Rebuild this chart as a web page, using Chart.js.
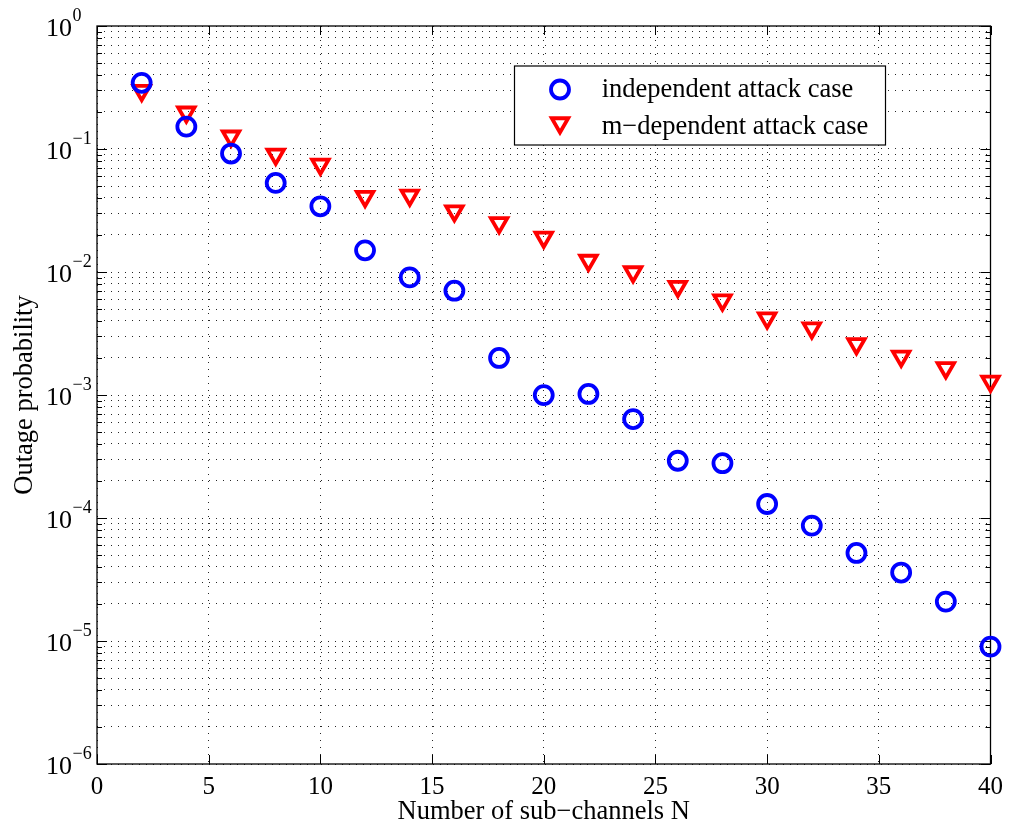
<!DOCTYPE html>
<html>
<head>
<meta charset="utf-8">
<script src="https://cdn.jsdelivr.net/npm/chart.js@4.4.1/dist/chart.umd.min.js"></script>
<style>
  html, body { margin: 0; padding: 0; background: #fff; }
  #wrap { width: 1011px; height: 833px; }
</style>
</head>
<body>
<div id="wrap"><canvas id="outageChart" width="1011" height="833"></canvas></div>
<script>
// --- data ---
const nValues = [2, 4, 6, 8, 10, 12, 14, 16, 18, 20, 22, 24, 26, 28, 30, 32, 34, 36, 38, 40];
const independentValues = [0.345, 0.152, 0.0918, 0.053, 0.0342, 0.0150, 0.00904, 0.00705, 0.00200, 0.000998,
    0.00102, 0.000637, 0.000292, 0.000279, 0.000130, 0.0000867, 0.0000520, 0.0000360, 0.0000209, 0.0000090];
const mDependentValues = [0.298, 0.199, 0.127, 0.0905, 0.075, 0.041, 0.042, 0.0313, 0.0251, 0.0191,
    0.0124, 0.0100, 0.0076, 0.0059, 0.00422, 0.0035, 0.00260, 0.00206, 0.00166, 0.00129];

const seriesLabels = ['independent attack case', 'm\u2212dependent attack case'];
const xTicks = [0, 5, 10, 15, 20, 25, 30, 35, 40];
const yExponents = [0, -1, -2, -3, -4, -5, -6];
const minorSteps = [2, 3, 4, 5, 6, 7, 8, 9];

// decades plus 2..9 minor lines in each decade
let yTickValues = [];
yExponents.forEach(e => {
    yTickValues.push(Math.pow(10, e));
    if (e < 0) minorSteps.forEach(m => yTickValues.push(m * Math.pow(10, e)));
});
yTickValues.sort((a, b) => a - b);

const serif = '"Liberation Serif", "Times New Roman", serif';
Chart.defaults.font.family = serif;
Chart.defaults.color = '#000';

// frame, inward ticks and 10^k labels like matlab
const axesBox = {
    id: 'axesBox',
    beforeDatasetsDraw(chart) {
        const { ctx, chartArea: a, scales: { x, y } } = chart;
        ctx.save();
        ctx.strokeStyle = '#000';
        ctx.lineWidth = 1;
        ctx.beginPath();
        xTicks.forEach(v => {
            const px = Math.round(x.getPixelForValue(v)) + 0.5;
            ctx.moveTo(px, a.bottom); ctx.lineTo(px, a.bottom - 9);
            ctx.moveTo(px, a.top); ctx.lineTo(px, a.top + 9);
        });
        yTickValues.forEach(v => {
            const py = Math.round(y.getPixelForValue(v)) + 0.5;
            const isDecade = Math.abs(Math.log10(v) - Math.round(Math.log10(v))) < 1e-9;
            const len = isDecade ? 10 : 5;
            ctx.moveTo(a.left, py); ctx.lineTo(a.left + len, py);
            ctx.moveTo(a.right, py); ctx.lineTo(a.right - len, py);
        });
        ctx.stroke();
        ctx.lineWidth = 1.3;
        ctx.strokeRect(a.left, a.top, a.right - a.left, a.bottom - a.top);

        // y tick labels with superscript
        yExponents.forEach(e => {
            const py = y.getPixelForValue(Math.pow(10, e));
            ctx.fillStyle = '#000';
            ctx.textBaseline = 'alphabetic';
            ctx.font = '26px ' + serif;
            ctx.textAlign = 'right';
            ctx.fillText('10', 72, py + 10);
            ctx.font = '18px ' + serif;
            ctx.textAlign = 'left';
            ctx.fillText(e === 0 ? '0' : '\u2212' + (-e), 72.5, py - 5);
        });
        ctx.restore();
    },
    afterDraw(chart) {
        const { ctx } = chart;
        ctx.save();
        // legend box
        ctx.fillStyle = '#fff';
        ctx.fillRect(514.5, 66, 371, 79);
        ctx.strokeStyle = '#000';
        ctx.lineWidth = 1.2;
        ctx.strokeRect(514.5, 66, 371, 79);
        const rows = [97, 133.5];
        const markerY = [89.5, 123];
        chart.data.datasets.forEach((ds, i) => {
            ctx.strokeStyle = ds.pointBorderColor;
            ctx.fillStyle = 'rgba(0,0,0,0)';
            ctx.lineWidth = ds.pointBorderWidth;
            Chart.helpers.drawPoint(ctx, {
                pointStyle: ds.pointStyle,
                radius: ds.pointRadius,
                rotation: ds.pointRotation || 0,
                borderWidth: ds.pointBorderWidth
            }, 560, markerY[i]);
            ctx.fillStyle = '#000';
            ctx.font = '26.5px ' + serif;
            ctx.textAlign = 'left';
            ctx.textBaseline = 'alphabetic';
            ctx.fillText(ds.label, 601.7, rows[i]);
        });
        ctx.restore();
    }
};

const ctx = document.getElementById('outageChart').getContext('2d');
new Chart(ctx, {
    type: 'scatter',
    data: {
        datasets: [{
            label: seriesLabels[0],
            data: nValues.map((n, i) => ({ x: n, y: independentValues[i] })),
            pointStyle: 'circle',
            pointRadius: 9,
            pointBorderWidth: 3.8,
            pointBorderColor: '#0000ff',
            pointBackgroundColor: 'rgba(0,0,0,0)',
            showLine: false,
            clip: false
        }, {
            label: seriesLabels[1],
            data: nValues.map((n, i) => ({ x: n, y: mDependentValues[i] })),
            pointStyle: 'triangle',
            pointRotation: 180,
            pointRadius: 9.5,
            pointBorderWidth: 3.8,
            pointBorderColor: '#ff0000',
            pointBackgroundColor: 'rgba(0,0,0,0)',
            showLine: false,
            clip: false
        }]
    },
    options: {
        responsive: false,
        devicePixelRatio: 1,
        animation: false,
        layout: { padding: { left: 0, right: 19, top: 26, bottom: 0 } },
        plugins: { legend: { display: false }, tooltip: { enabled: false } },
        scales: {
            x: {
                type: 'linear',
                min: 0, max: 40,
                afterFit(scale) { scale.height = 69; },
                afterBuildTicks(scale) { scale.ticks = xTicks.map(v => ({ value: v })); },
                ticks: { font: { size: 25 }, color: '#000', padding: 8, maxRotation: 0 },
                grid: { color: 'rgba(0,0,0,0.85)', lineWidth: 1, drawTicks: false },
                border: { display: false, dash: [1, 6] },
                title: { display: true, text: 'Number of sub\u2212channels N', font: { size: 26.5 }, color: '#000', padding: { top: 0, bottom: 5 } }
            },
            y: {
                type: 'logarithmic',
                min: 1e-6, max: 1,
                afterFit(scale) { scale.width = 97; },
                afterBuildTicks(scale) { scale.ticks = yTickValues.map(v => ({ value: v })); },
                ticks: { display: false },
                grid: { color: 'rgba(0,0,0,0.85)', lineWidth: 1, drawTicks: false },
                border: { display: false, dash: [1, 6] },
                title: { display: true, text: 'Outage probability', font: { size: 26.5 }, color: '#000', padding: { top: 9, bottom: 0 } }
            }
        }
    },
    plugins: [axesBox]
});
</script>
</body>
</html>
